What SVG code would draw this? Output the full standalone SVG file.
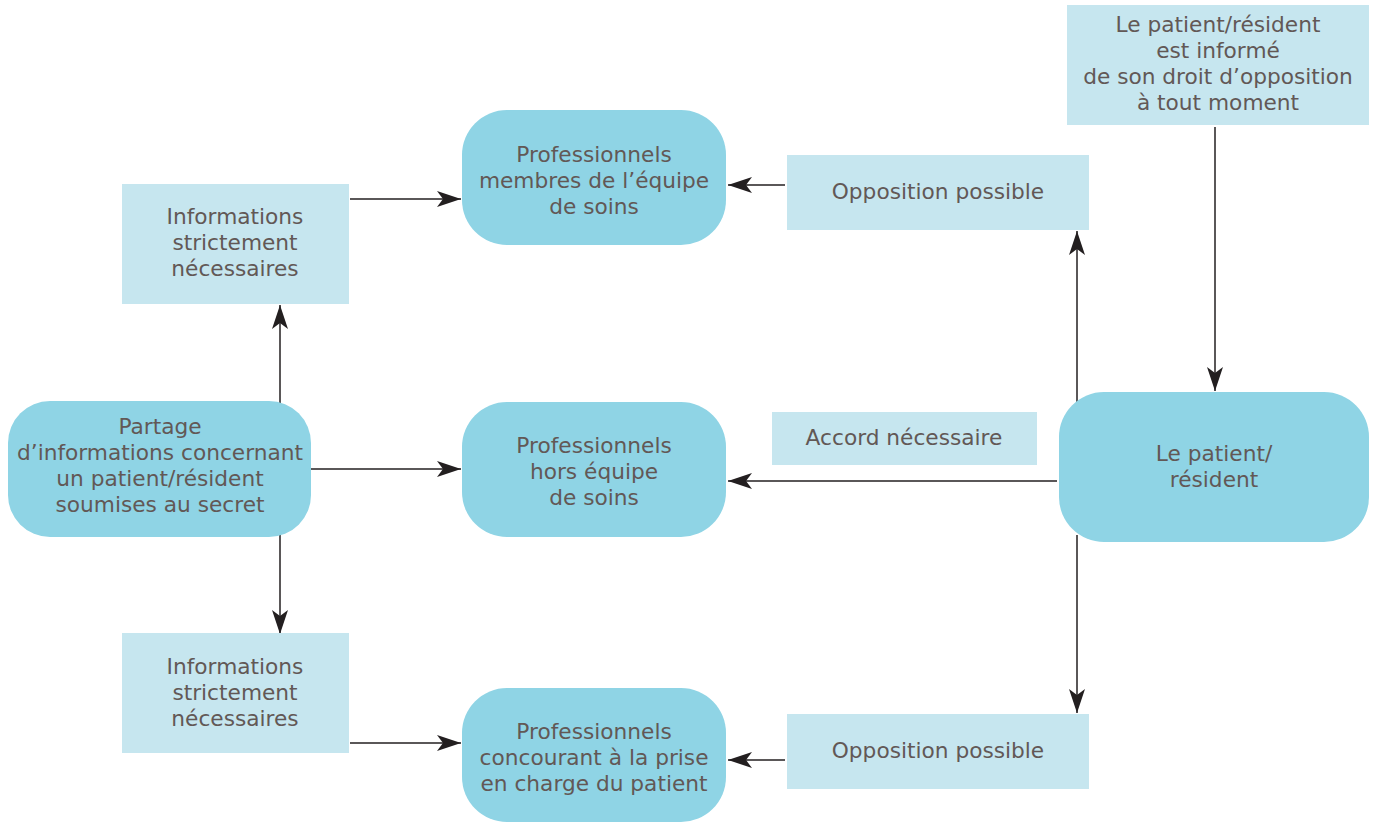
<svg xmlns="http://www.w3.org/2000/svg" width="1377" height="822" viewBox="0 0 1377 822">
  <defs>
    <style>
      .main { fill: #8fd4e5; }
      .note { fill: #c6e6ef; }
      .lbl { font-family: "DejaVu Sans", Verdana, sans-serif; font-size: 21.7px; fill: #625856; text-anchor: middle; }
      .wire { stroke: #231f20; stroke-width: 1.5; fill: none; marker-end: url(#head); }
    </style>
    <marker id="head" markerUnits="userSpaceOnUse" markerWidth="26" markerHeight="16" refX="24" refY="8" orient="auto">
      <path d="M0,0 L24,8 L0,16 L6,8 z" fill="#231f20"/>
    </marker>
  </defs>
  <rect width="1377" height="822" fill="#ffffff"/>

  <!-- connectors -->
  <g id="connectors">
    <line class="wire" x1="280" y1="405" x2="280" y2="305"/>
    <line class="wire" x1="280" y1="535" x2="280" y2="634"/>
    <line class="wire" x1="307" y1="469" x2="461" y2="469"/>
    <line class="wire" x1="350" y1="199" x2="461" y2="199"/>
    <line class="wire" x1="350" y1="743" x2="461" y2="743"/>
    <line class="wire" x1="785" y1="185" x2="728" y2="185"/>
    <line class="wire" x1="785" y1="760" x2="728" y2="760"/>
    <line class="wire" x1="1057" y1="481" x2="728" y2="481"/>
    <line class="wire" x1="1077" y1="405" x2="1077" y2="231"/>
    <line class="wire" x1="1077" y1="535" x2="1077" y2="713"/>
    <line class="wire" x1="1215" y1="127" x2="1215" y2="391"/>
  </g>

  <g id="partage">
    <rect class="main" x="8" y="401" width="303" height="136" rx="42"/>
    <text class="lbl" x="160" y="434">Partage</text>
    <text class="lbl" x="160" y="460">d’informations concernant</text>
    <text class="lbl" x="160" y="486">un patient/résident</text>
    <text class="lbl" x="160" y="512">soumises au secret</text>
  </g>

  <g id="info-haut">
    <rect class="note" x="122" y="184" width="227" height="120"/>
    <text class="lbl" x="235" y="224">Informations</text>
    <text class="lbl" x="235" y="250">strictement</text>
    <text class="lbl" x="235" y="276">nécessaires</text>
  </g>

  <g id="info-bas">
    <rect class="note" x="122" y="633" width="227" height="120"/>
    <text class="lbl" x="235" y="674">Informations</text>
    <text class="lbl" x="235" y="700">strictement</text>
    <text class="lbl" x="235" y="726">nécessaires</text>
  </g>

  <g id="pro-equipe">
    <rect class="main" x="462" y="110" width="264" height="135" rx="45"/>
    <text class="lbl" x="594" y="162">Professionnels</text>
    <text class="lbl" x="594" y="188">membres de l’équipe</text>
    <text class="lbl" x="594" y="214">de soins</text>
  </g>

  <g id="pro-hors">
    <rect class="main" x="462" y="402" width="264" height="135" rx="45"/>
    <text class="lbl" x="594" y="453">Professionnels</text>
    <text class="lbl" x="594" y="479">hors équipe</text>
    <text class="lbl" x="594" y="505">de soins</text>
  </g>

  <g id="pro-concourant">
    <rect class="main" x="462" y="688" width="264" height="134" rx="45"/>
    <text class="lbl" x="594" y="739">Professionnels</text>
    <text class="lbl" x="594" y="765">concourant à la prise</text>
    <text class="lbl" x="594" y="791">en charge du patient</text>
  </g>

  <g id="opposition-haut">
    <rect class="note" x="787" y="155" width="302" height="75"/>
    <text class="lbl" x="938" y="199">Opposition possible</text>
  </g>

  <g id="opposition-bas">
    <rect class="note" x="787" y="714" width="302" height="75"/>
    <text class="lbl" x="938" y="758">Opposition possible</text>
  </g>

  <g id="accord">
    <rect class="note" x="772" y="412" width="265" height="53"/>
    <text class="lbl" x="904" y="445">Accord nécessaire</text>
  </g>

  <g id="patient">
    <rect class="main" x="1059" y="392" width="310" height="150" rx="45"/>
    <text class="lbl" x="1214" y="461">Le patient/</text>
    <text class="lbl" x="1214" y="487">résident</text>
  </g>

  <g id="droit-opposition">
    <rect class="note" x="1067" y="5" width="302" height="120"/>
    <text class="lbl" x="1218" y="32">Le patient/résident</text>
    <text class="lbl" x="1218" y="58">est informé</text>
    <text class="lbl" x="1218" y="84">de son droit d’opposition</text>
    <text class="lbl" x="1218" y="110">à tout moment</text>
  </g>
</svg>
